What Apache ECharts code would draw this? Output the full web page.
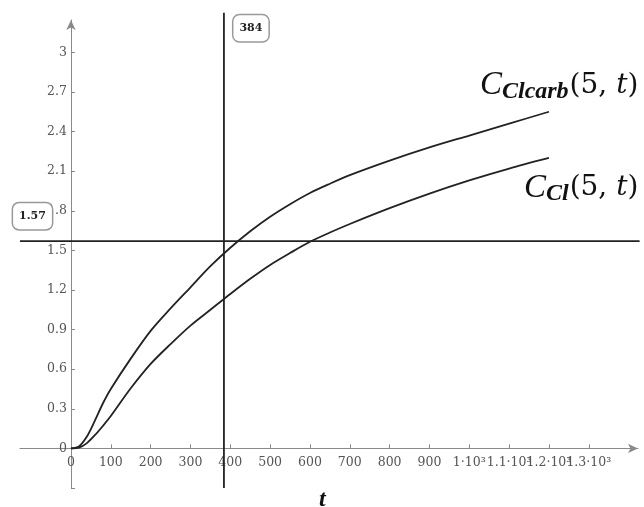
<!DOCTYPE html>
<html>
<head>
<meta charset="utf-8">
<script src="https://cdn.jsdelivr.net/npm/echarts@6/dist/echarts.min.js"></script>
<style>html,body{margin:0;padding:0;background:#fff}#c{width:644px;height:507px}</style>
</head>
<body>
<div id="c"></div>
<script>
var tValues = [0,20,40,60,80,100,150,200,250,300,350,400,450,500,550,600,650,700,800,900,1000,1100,1200];
var cClcarb = [0,0.015,0.09,0.21,0.34,0.45,0.68,0.89,1.06,1.22,1.38,1.52,1.645,1.755,1.85,1.935,2.005,2.07,2.18,2.28,2.37,2.46,2.55];
var cCl     = [0,0.005,0.04,0.10,0.17,0.245,0.455,0.64,0.79,0.93,1.05,1.17,1.285,1.39,1.48,1.565,1.635,1.70,1.82,1.93,2.03,2.12,2.20];
var xTicks = [0,100,200,300,400,500,600,700,800,900,1000,1100,1200,1300];
var xTickLabels = ['0','100','200','300','400','500','600','700','800','900','1·10³','1.1·10³','1.2·10³','1.3·10³'];
var yTicks = [0,0.3,0.6,0.9,1.2,1.5,1.8,2.1,2.4,2.7,3];
var yTickLabels = ['0','0.3','0.6','0.9','1.2','1.5','1.8','2.1','2.4','2.7','3'];
var tMarker = 384;
var cMarker = 1.57;
var xMin = -128, xMax = 1423.6, yMin = -0.3, yMax = 3.245;

function pairs(xs, ys){ return xs.map(function(x,i){ return [x, ys[i]]; }); }

var serif = 'DejaVu Serif';
var boxLabel = {
  show: true, color: '#222', fontFamily: serif, fontWeight: 'bold', fontSize: 11,
  backgroundColor: '#fff', borderColor: '#999', borderWidth: 1.5, borderRadius: 6,
  padding: [8, 6, 7, 6], position: 'inside'
};
var rich = {
  c: {fontFamily: 'Liberation Serif', fontStyle: 'italic', fontSize: 33, color: '#111', verticalAlign: 'middle', lineHeight: 36},
  s: {fontFamily: 'Liberation Serif', fontStyle: 'italic', fontWeight: 'bold', fontSize: 24, color: '#111', verticalAlign: 'bottom', lineHeight: 36, padding: [14,1,0,0]},
  p: {fontFamily: 'DejaVu Serif', fontSize: 28, color: '#111', verticalAlign: 'middle', lineHeight: 36},
  t: {fontFamily: 'DejaVu Serif', fontStyle: 'italic', fontSize: 28, color: '#111', verticalAlign: 'middle', lineHeight: 36}
};
var lineStyle = {color: '#222', width: 1.8};

var chart = echarts.init(document.getElementById('c'), null, {renderer: 'canvas'});
chart.setOption({
  animation: false,
  backgroundColor: '#fff',
  title: {text: 't', left: 314, top: 483,
    textStyle: {fontFamily: 'Liberation Serif', fontStyle: 'italic', fontWeight: 'bold', fontSize: 24, color: '#111'}},
  grid: {left: 20, right: 6, top: 20, bottom: 19, containLabel: false, outerBoundsMode: 'none'},
  xAxis: {
    type: 'value', min: xMin, max: xMax,
    splitLine: {show: false},
    axisLine: {onZero: true, lineStyle: {color: '#8a8a8a', width: 1}, symbol: ['none', 'arrow'], symbolSize: [7, 10]},
    axisTick: {show: true, inside: true, length: 4, customValues: xTicks, lineStyle: {color: '#8a8a8a'}},
    axisLabel: {customValues: xTicks.concat([1400]), margin: -32, color: '#555', fontFamily: serif, fontSize: 12.5,
      hideOverlap: false,
      formatter: function(v){ var i = xTicks.indexOf(Math.round(v)); return i >= 0 ? xTickLabels[i] : ''; }}
  },
  yAxis: {
    type: 'value', min: yMin, max: yMax,
    splitLine: {show: false},
    axisLine: {onZero: true, lineStyle: {color: '#8a8a8a', width: 1}, symbol: ['none', 'arrow'], symbolSize: [7, 10]},
    axisTick: {show: true, inside: true, length: 4, customValues: [yMin].concat(yTicks), lineStyle: {color: '#8a8a8a'}},
    axisLabel: {customValues: yTicks, margin: -47, color: '#555', fontFamily: serif, fontSize: 12.5,
      hideOverlap: false, showMinLabel: true, showMaxLabel: true,
      formatter: function(v){ var i = yTicks.findIndex(function(y){ return Math.abs(y - v) < 1e-6; }); return i >= 0 ? yTickLabels[i] : ''; }}
  },
  series: [
    {
      type: 'line', name: 'tMarker', data: [[tMarker, yMin], [tMarker, 3.3]], showSymbol: false, clip: false,
      lineStyle: lineStyle, silent: true, z: 2,
      markPoint: {silent: true, symbol: 'circle', symbolSize: 0,
        data: [{coord: [tMarker, 3.183], label: Object.assign({}, boxLabel, {formatter: String(tMarker), offset: [27, 0]})}]}
    },
    {
      type: 'line', name: 'cMarker', data: [[xMin, cMarker], [xMax + 4, cMarker]], showSymbol: false, clip: false,
      lineStyle: lineStyle, silent: true, z: 2,
      markPoint: {silent: true, symbol: 'circle', symbolSize: 0,
        data: [{coord: [xMin, cMarker], label: Object.assign({}, boxLabel, {formatter: String(cMarker), offset: [12.5, -25]})}]}
    },
    {
      type: 'line', name: 'C_Clcarb', data: pairs(tValues, cClcarb), smooth: 0.3, showSymbol: false,
      lineStyle: lineStyle, z: 3,
      markPoint: {silent: true, symbol: 'circle', symbolSize: 0,
        data: [{coord: [1200, 2.55], label: {show: true, position: 'inside', align: 'left', verticalAlign: 'middle', offset: [-69, -26],
          formatter: '{c|C}{s|Clcarb}{p|(5, }{t|t}{p|)}', rich: rich}}]}
    },
    {
      type: 'line', name: 'C_Cl', data: pairs(tValues, cCl), smooth: 0.3, showSymbol: false,
      lineStyle: lineStyle, z: 3,
      markPoint: {silent: true, symbol: 'circle', symbolSize: 0,
        data: [{coord: [1200, 2.20], label: {show: true, position: 'inside', align: 'left', verticalAlign: 'middle', offset: [-25, 30],
          formatter: '{c|C}{s|Cl}{p|(5, }{t|t}{p|)}', rich: rich}}]}
    }
  ]
});
</script>
</body>
</html>
